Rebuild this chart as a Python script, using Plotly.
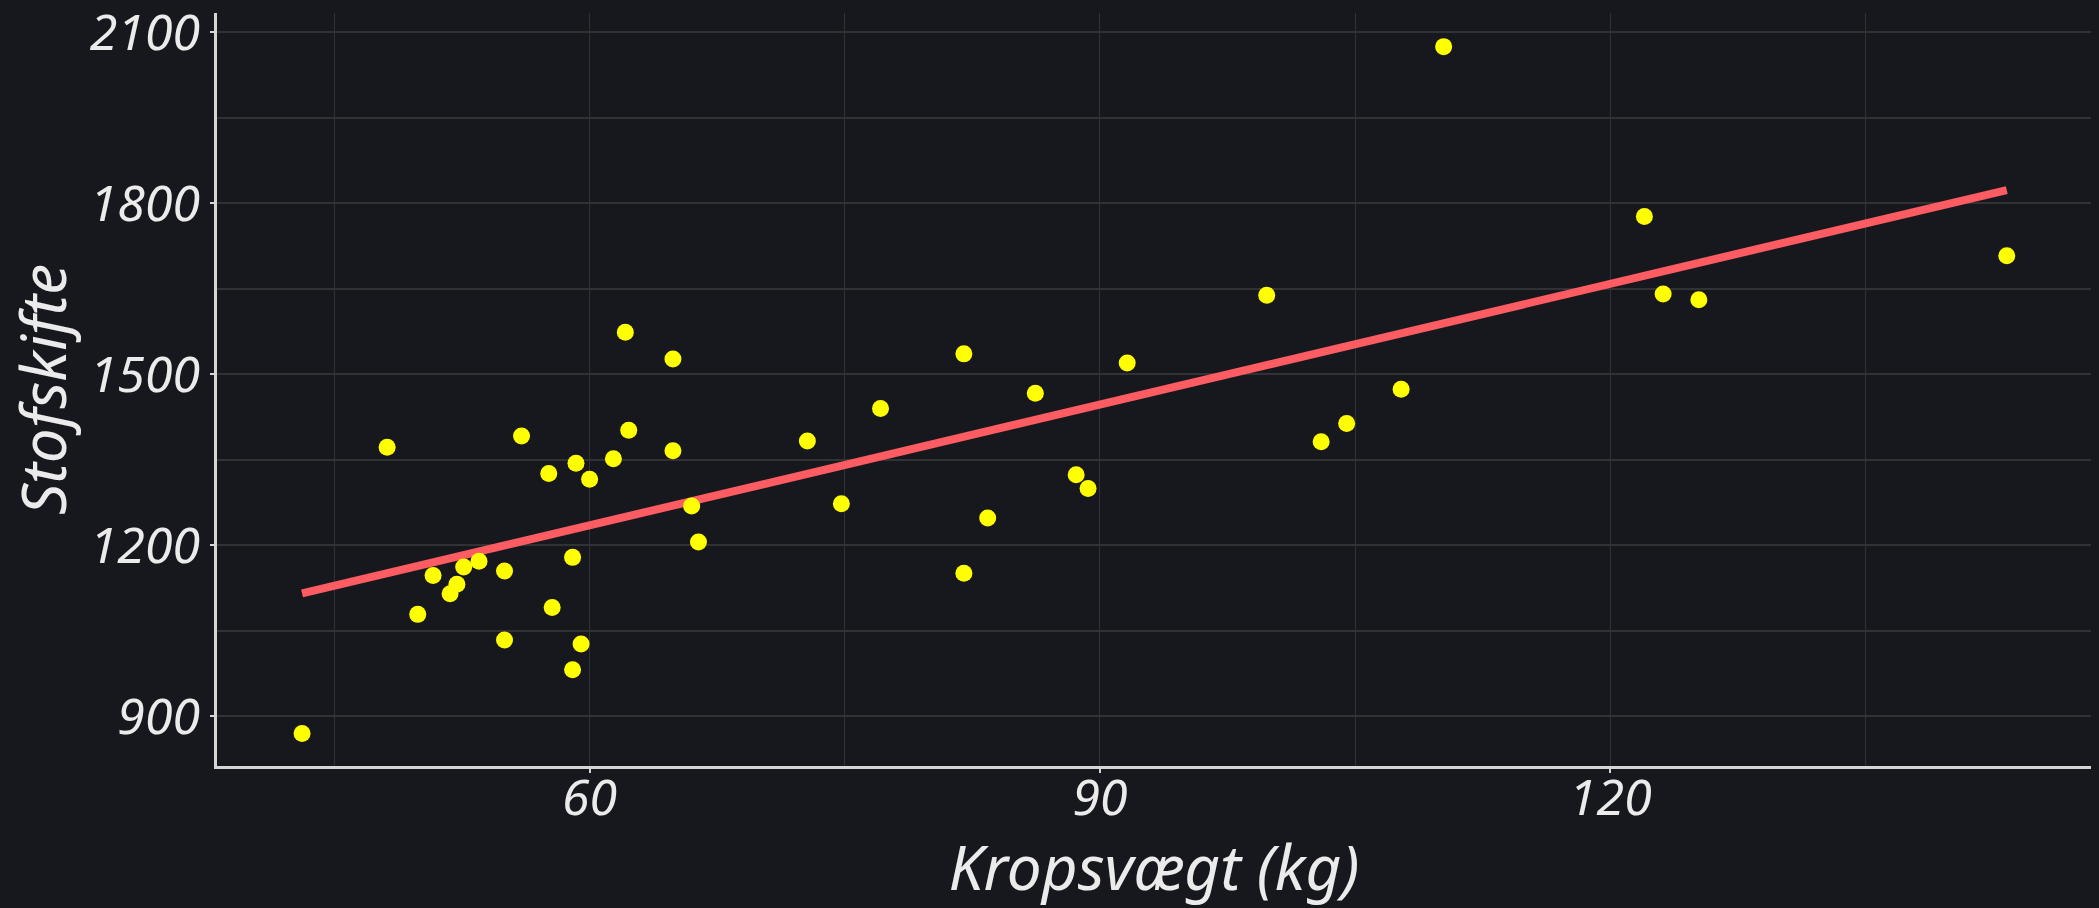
import numpy as np
import plotly.graph_objects as go

# Body weight (kg) and metabolic rate
kropsvaegt = [43.1, 48.1, 49.9, 50.8, 51.8, 52.2, 52.6, 53.5, 55.0, 55.0,
              56.0, 57.6, 57.8, 59.0, 59.0, 59.2, 59.5, 60.0, 61.4, 62.1,
              62.3, 64.9, 64.9, 66.0, 66.4, 72.8, 74.8, 77.1, 82.0, 82.0,
              83.4, 86.2, 88.6, 89.3, 91.6, 99.8, 103.0, 104.5, 107.7, 110.2,
              122.0, 123.1, 125.2, 143.3]
stofskifte = [870, 1372, 1079, 1147, 1115, 1132, 1162, 1172, 1155, 1034,
              1392, 1326, 1091, 1179, 982, 1344, 1027, 1316, 1352, 1574,
              1402, 1527, 1366, 1269, 1206, 1383, 1273, 1440, 1536, 1151,
              1248, 1467, 1324, 1300, 1520, 1639, 1382, 1414, 1474, 2075,
              1777, 1641, 1631, 1708]

x_ticks = [60, 90, 120]
y_ticks = [900, 1200, 1500, 1800, 2100]
x_title = "Kropsvægt (kg)"
y_title = "Stofskifte"

x = np.array(kropsvaegt)
y = np.array(stofskifte)
slope, intercept = np.polyfit(x, y, 1)
x_fit = np.array([x.min(), x.max()])
y_fit = slope * x_fit + intercept

BG = "#17181d"
TXT = "#ebebeb"
AXIS = "#d6d6d6"
GRID = "#323236"

fig = go.Figure()
fig.add_trace(go.Scatter(
    x=x_fit, y=y_fit, mode="lines",
    line=dict(color="#fd5c63", width=8),
    hoverinfo="skip", showlegend=False,
))
fig.add_trace(go.Scatter(
    x=kropsvaegt, y=stofskifte, mode="markers",
    marker=dict(color="#ffff00", size=17, line=dict(width=0)),
    showlegend=False,
))

font_family = "Noto Sans"
tick_font = dict(size=50, family=font_family, color=TXT, style="italic")
title_font = dict(size=62, family=font_family, color=TXT, style="italic")

fig.update_layout(
    width=2099, height=908,
    paper_bgcolor=BG, plot_bgcolor=BG,
    margin=dict(l=217, r=8, t=13, b=142, autoexpand=False),
    font=dict(family=font_family, color=TXT, size=50, style="italic"),
    showlegend=False,
)
fig.update_xaxes(
    range=[38.1, 148.25],
    tickmode="array", tickvals=x_ticks, ticktext=[str(v) for v in x_ticks],
    tickfont=tick_font, ticklabelstandoff=-18, ticklabeloverflow="allow",
    showline=True, linecolor=AXIS, linewidth=3,
    ticks="outside", ticklen=4, tickwidth=2, tickcolor=AXIS,
    showgrid=True, gridcolor=GRID, gridwidth=1,
    minor=dict(dtick=15, tick0=0, showgrid=True, gridcolor=GRID, gridwidth=1, ticks=""),
    zeroline=False,
    title=dict(text=x_title, font=title_font, standoff=3),
)
fig.update_yaxes(
    range=[813, 2134],
    tickmode="array", tickvals=y_ticks, ticktext=[str(v) for v in y_ticks],
    tickfont=tick_font, ticklabelstandoff=0, ticklabeloverflow="allow",
    showline=True, linecolor=AXIS, linewidth=3,
    ticks="outside", ticklen=4, tickwidth=2, tickcolor=AXIS,
    showgrid=True, gridcolor=GRID, gridwidth=2,
    minor=dict(dtick=150, tick0=0, showgrid=True, gridcolor=GRID, gridwidth=2, ticks=""),
    zeroline=False,
    title=dict(text=y_title, font=title_font, standoff=18),
)

fig.write_html(
    "out.html",
    config={"displayModeBar": False},
    post_script="document.body.style.margin='0';document.body.style.background='%s';" % BG,
)
